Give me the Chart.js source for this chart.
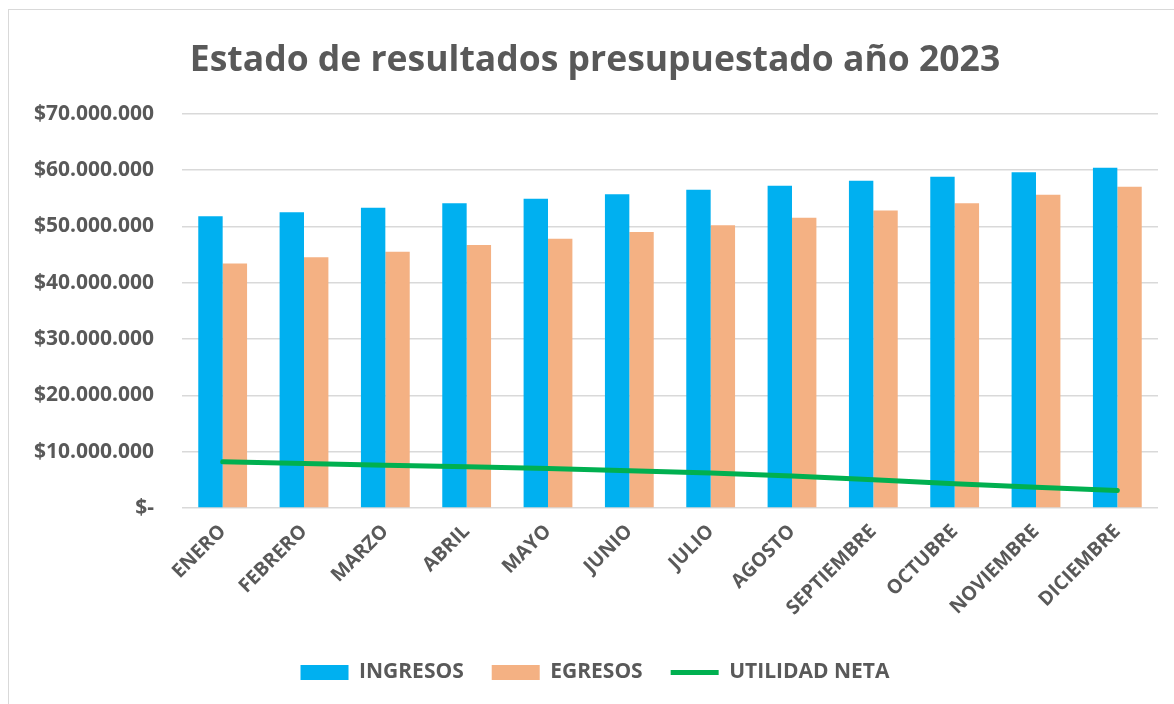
<!DOCTYPE html>
<html lang="es">
<head>
<meta charset="utf-8">
<title>Estado de resultados presupuestado año 2023</title>
<script src="https://cdn.jsdelivr.net/npm/chart.js@4.4.1/dist/chart.umd.min.js"></script>
<style>
  html, body { margin: 0; padding: 0; background: #fff; overflow: hidden; }
  .frame {
    position: absolute; left: 8px; top: 9px; width: 1180px; height: 720px;
    border: 1.5px solid #d9d9d9; box-sizing: border-box;
  }
  .wrap { position: absolute; left: 0; top: 0; width: 1174px; height: 704px; }
</style>
</head>
<body>
<div class="frame"></div>
<div class="wrap"><canvas id="resultChart"></canvas></div>
<script>
  // Valores (pesos)
  const meses = ['ENERO', 'FEBRERO', 'MARZO', 'ABRIL', 'MAYO', 'JUNIO', 'JULIO',
                 'AGOSTO', 'SEPTIEMBRE', 'OCTUBRE', 'NOVIEMBRE', 'DICIEMBRE'];
  const ingresos = [51800000, 52500000, 53300000, 54100000, 54900000, 55700000,
                    56500000, 57200000, 58100000, 58800000, 59600000, 60400000];
  const egresos = [43400000, 44500000, 45500000, 46700000, 47800000, 49000000,
                   50200000, 51500000, 52800000, 54100000, 55600000, 57000000];
  const utilidadNeta = [8200000, 7900000, 7600000, 7300000, 7000000, 6600000,
                        6200000, 5700000, 5000000, 4300000, 3700000, 3100000];
  const yTicks = [0, 10000000, 20000000, 30000000, 40000000, 50000000, 60000000, 70000000];
  const legendOrder = ['INGRESOS', 'EGRESOS', 'UTILIDAD NETA'];

  const gray = '#595959';
  const grid = '#d9d9d9';
  const fontFam = '"Open Sans", "Liberation Sans", sans-serif';

  const fmt = v => v === 0 ? '$-' : '$' + v.toString().replace(/\B(?=(\d{3})+(?!\d))/g, '.');

  new Chart(document.getElementById('resultChart'), {
    data: {
      labels: meses,
      datasets: [
        { type: 'line', label: 'UTILIDAD NETA', data: utilidadNeta, borderColor: '#00b050',
          backgroundColor: '#00b050', borderWidth: 5, pointRadius: 0, tension: 0,
          borderCapStyle: 'round', order: 0 },
        { type: 'bar', label: 'INGRESOS', data: ingresos, backgroundColor: '#00b0f0',
          categoryPercentage: 0.6, barPercentage: 1.0, order: 1 },
        { type: 'bar', label: 'EGRESOS', data: egresos, backgroundColor: '#f4b183',
          categoryPercentage: 0.6, barPercentage: 1.0, order: 1 }
      ]
    },
    options: {
      responsive: true, maintainAspectRatio: false, animation: false,
      layout: { padding: { left: 32, right: 16, top: 0, bottom: 11 } },
      plugins: {
        title: {
          display: true, text: 'Estado de resultados presupuestado año 2023',
          color: gray, font: { family: fontFam, size: 35.5, weight: 'bold' },
          padding: { top: 40, bottom: 31 }
        },
        legend: {
          position: 'bottom',
          labels: {
            color: gray, font: { family: fontFam, size: 21, weight: 'bold' },
            usePointStyle: true, pointStyleWidth: 48, boxHeight: 15, padding: 28,
            sort: (a, b) => legendOrder.indexOf(a.text) - legendOrder.indexOf(b.text),
            generateLabels: chart => chart.data.datasets.map((ds, i) => ({
              text: ds.label, datasetIndex: i,
              fillStyle: ds.backgroundColor,
              strokeStyle: ds.type === 'line' ? ds.borderColor : ds.backgroundColor,
              lineWidth: ds.type === 'line' ? 5 : 0,
              pointStyle: ds.type === 'line' ? 'line' : 'rect',
              fontColor: gray, hidden: false
            }))
          }
        },
        tooltip: { enabled: false }
      },
      scales: {
        x: {
          offset: true,
          grid: { display: false, drawTicks: false },
          border: { display: false },
          ticks: { color: gray, font: { family: fontFam, size: 19.5, weight: 'bold' },
                   minRotation: 45, maxRotation: 45, padding: 12 },
          afterFit: s => { s.height = 126; }
        },
        y: {
          min: 0, max: 70000000,
          afterBuildTicks: s => { s.ticks = yTicks.map(v => ({ value: v })); },
          grid: { color: grid, lineWidth: 1.5, drawTicks: false },
          border: { display: false },
          ticks: { color: gray, font: { family: fontFam, size: 21, weight: 'bold' },
                   padding: 28, callback: v => fmt(v) },
          afterFit: s => { s.width = 150; }
        }
      }
    }
  });
</script>
</body>
</html>
